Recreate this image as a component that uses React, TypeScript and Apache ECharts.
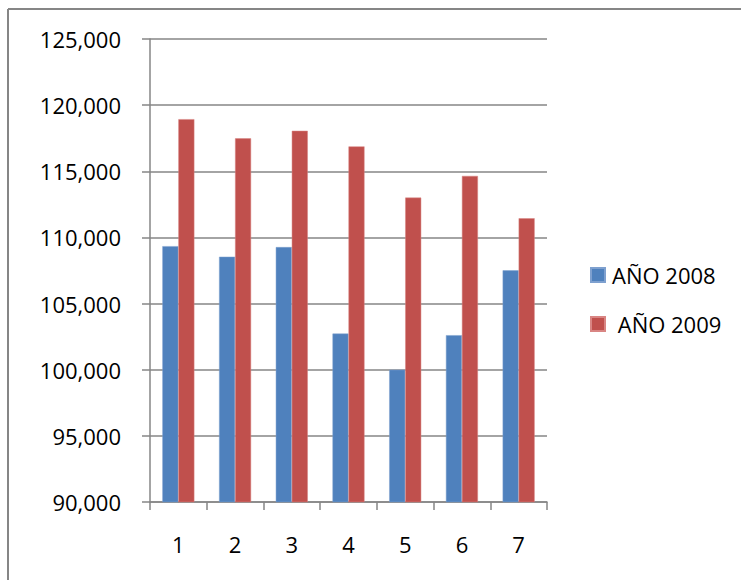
import React, { useEffect, useRef } from "react";
import * as echarts from "echarts";

const categories = ["1", "2", "3", "4", "5", "6", "7"];
const seriesNames = ["AÑO 2008", " AÑO 2009"];
const values2008 = [109340, 108540, 109270, 102730, 100000, 102610, 107510];
const values2009 = [118940, 117490, 118060, 116880, 113010, 114650, 111450];
const yTicks = { min: 90000, max: 125000, interval: 5000 };

const FONT = "'Open Sans', 'Liberation Sans', sans-serif";
const GRAY = "#868686";

export default function App() {
  const ref = useRef<HTMLDivElement>(null);
  useEffect(() => {
    if (!ref.current) return;
    const chart = echarts.init(ref.current, undefined, { renderer: "svg" });
    chart.setOption({
      animation: false,
      backgroundColor: "#ffffff",
      textStyle: { fontFamily: FONT },
      grid: { left: 150, right: 194, top: 39, bottom: 78 },
      graphic: [
        { type: "line", shape: { x1: 8, y1: 9, x2: 741, y2: 9 }, style: { stroke: GRAY, lineWidth: 2 } },
        { type: "line", shape: { x1: 8, y1: 9, x2: 8, y2: 580 }, style: { stroke: GRAY, lineWidth: 2 } },
      ],
      legend: {
        orient: "vertical",
        left: 585,
        top: 259,
        itemWidth: 14,
        itemHeight: 14,
        itemGap: 27,
        icon: "rect",
        textStyle: { fontFamily: FONT, fontSize: 22, color: "#000", lineHeight: 22, padding: [0, 0, 0, 2] },
        data: seriesNames,
      },
      xAxis: {
        type: "category",
        data: categories,
        boundaryGap: true,
        axisLine: { lineStyle: { color: GRAY, width: 1.5 } },
        axisTick: { show: true, length: 8, alignWithLabel: false, lineStyle: { color: GRAY, width: 1.5 } },
        axisLabel: { color: "#000", fontSize: 22, fontFamily: FONT, margin: 31 },
        splitLine: { show: false },
      },
      yAxis: {
        type: "value",
        min: yTicks.min,
        max: yTicks.max,
        interval: yTicks.interval,
        axisLine: { show: true, lineStyle: { color: GRAY, width: 1.5 } },
        axisTick: { show: true, length: 8, lineStyle: { color: GRAY, width: 1.5 } },
        axisLabel: {
          color: "#000",
          fontSize: 22,
          fontFamily: FONT,
          margin: 29,
          formatter: (v: number) => v.toLocaleString("en-US"),
        },
        splitLine: { show: true, lineStyle: { color: GRAY, width: 1.5 } },
      },
      series: [
        {
          name: seriesNames[0],
          type: "bar",
          data: values2008,
          barWidth: 16,
          barGap: "0%",
          itemStyle: { color: "#4f81bd", borderColor: "#7ea0cf", borderWidth: 0.5 },
        },
        {
          name: seriesNames[1],
          type: "bar",
          data: values2009,
          barWidth: 16,
          barGap: "0%",
          itemStyle: { color: "#c0504d", borderColor: "#d98583", borderWidth: 0.5 },
        },
      ],
    });
    return () => chart.dispose();
  }, []);
  return (
    <div
      ref={ref}
      style={{ position: "fixed", left: 0, top: 0, width: 741, height: 580 }}
    />
  );
}
